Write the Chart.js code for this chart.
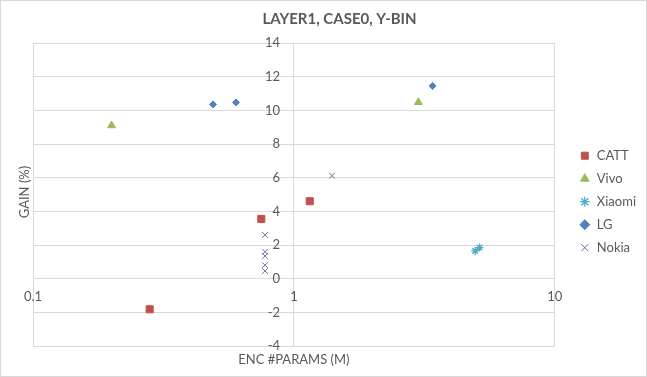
<!DOCTYPE html>
<html>
<head>
<meta charset="utf-8">
<script src="https://cdn.jsdelivr.net/npm/chart.js@4/dist/chart.umd.min.js"></script>
<style>
  html, body { margin: 0; padding: 0; background: #fff; }
  #wrap {
    width: 647px; height: 377px; box-sizing: border-box;
    border: 1px solid #d9d9d9; background: #fff;
  }
</style>
</head>
<body>
<div id="wrap"><canvas id="chart" width="645" height="375"></canvas></div>
<script>
// Chart data
const chartTitle = 'LAYER1, CASE0, Y-BIN';
const xAxisTitle = 'ENC #PARAMS (M)';
const yAxisTitle = 'GAIN (%)';

const seriesNames = ['CATT', 'Vivo', 'Xiaomi', 'LG', 'Nokia'];

const cattX = [0.28, 0.75, 1.15];
const cattY = [-1.82, 3.55, 4.6];
const vivoX = [0.2, 3.0];
const vivoY = [9.1, 10.48];
const xiaomiX = [4.95, 5.15];
const xiaomiY = [1.65, 1.85];
const lgX = [0.49, 0.6, 3.4];
const lgY = [10.35, 10.47, 11.45];
const nokiaX = [1.4, 0.775, 0.775, 0.775, 0.775, 0.775];
const nokiaY = [6.12, 2.6, 1.6, 1.35, 0.8, 0.45];

const xTicks = [0.1, 1, 10];
const yMin = -4, yMax = 14, yStep = 2;

const textColor = '#595959';
const gridColor = '#d9d9d9';
const fontFamily = 'Lato, "Open Sans", sans-serif';

function toPoints(xs, ys) {
    return xs.map((x, i) => ({ x: x, y: ys[i] }));
}

function makeSet(name, xs, ys, color, style, radius, width) {
    return {
        label: name,
        data: toPoints(xs, ys),
        backgroundColor: color,
        borderColor: color,
        pointStyle: style,
        pointRadius: radius,
        pointHoverRadius: radius,
        pointBorderWidth: width,
        showLine: false
    };
}

// Draws the two axis titles outside the dynamically placed axes
const axisTitles = {
    id: 'axisTitles',
    afterDraw(chart) {
        const c = chart.ctx;
        const area = chart.chartArea;
        c.save();
        c.fillStyle = textColor;
        c.font = '13px ' + fontFamily;
        c.textAlign = 'center';
        c.textBaseline = 'middle';
        c.fillText(xAxisTitle, (area.left + area.right) / 2, 359);
        c.translate(24, 191);
        c.rotate(-Math.PI / 2);
        c.fillText(yAxisTitle, 0, 0);
        c.restore();
    }
};

window.onload = function() {
    const ctx = document.getElementById('chart').getContext('2d');
    new Chart(ctx, {
        type: 'scatter',
        data: {
            datasets: [
                makeSet(seriesNames[0], cattX, cattY, '#C0504D', 'rect', 5, 1),
                makeSet(seriesNames[1], vivoX, vivoY, '#9BBB59', 'triangle', 4.5, 1),
                makeSet(seriesNames[2], xiaomiX, xiaomiY, '#4BACC6', 'star', 4, 1.3),
                makeSet(seriesNames[3], lgX, lgY, '#4F81BD', 'rectRot', 3.5, 1),
                makeSet(seriesNames[4], nokiaX, nokiaY, '#8064A2', 'crossRot', 4, 1)
            ]
        },
        options: {
            responsive: false,
            animation: false,
            layout: { padding: { left: 32, top: 0, right: 0, bottom: 30 } },
            scales: {
                x: {
                    type: 'logarithmic',
                    min: 0.1,
                    max: 10,
                    position: { y: 0 },
                    afterBuildTicks: (scale) => {
                        scale.ticks = xTicks.map(v => ({ value: v }));
                    },
                    ticks: {
                        color: textColor,
                        font: { family: fontFamily, size: 13 },
                        padding: 10,
                        autoSkip: false,
                        maxRotation: 0,
                        callback: (value) => String(value)
                    },
                    grid: { color: gridColor, drawTicks: false },
                    border: { color: gridColor }
                },
                y: {
                    type: 'linear',
                    min: yMin,
                    max: yMax,
                    // labels sit a little left of the x=1 gridline, which already draws the axis line
                    position: { x: 0.885 },
                    ticks: {
                        stepSize: yStep,
                        color: textColor,
                        font: { family: fontFamily, size: 13 }
                    },
                    grid: { color: gridColor, drawTicks: false },
                    border: { display: false }
                },
                pad: {
                    type: 'linear',
                    position: 'right',
                    display: true,
                    grid: { display: false },
                    border: { display: false },
                    ticks: { display: false },
                    afterFit: (scale) => { scale.width = 14.5; }
                }
            },
            plugins: {
                title: {
                    display: true,
                    text: chartTitle,
                    color: textColor,
                    font: { family: fontFamily, size: 15, weight: 'bold' },
                    padding: { top: 9, bottom: 15 }
                },
                legend: {
                    position: 'right',
                    fullSize: false,
                    title: { display: true, text: '', font: { size: 12, lineHeight: 1.2 }, padding: 0 },
                    labels: {
                        usePointStyle: true,
                        boxWidth: 11,
                        boxHeight: 7,
                        padding: 10,
                        color: textColor,
                        font: { family: fontFamily, size: 13 }
                    }
                },
                tooltip: { enabled: false }
            }
        },
        plugins: [axisTitles]
    });
};
</script>
</body>
</html>
